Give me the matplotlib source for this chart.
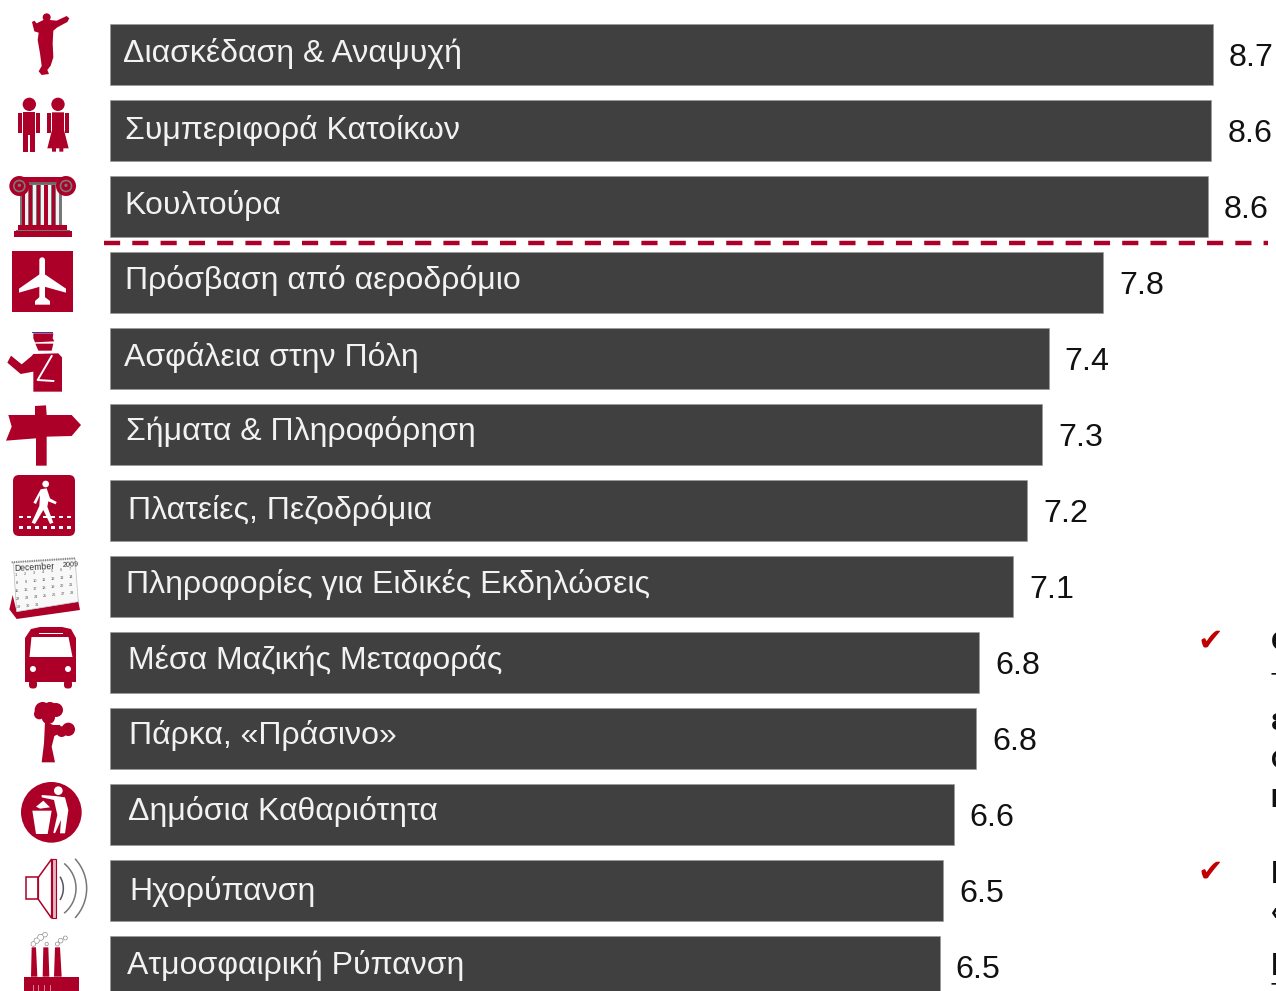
import matplotlib
matplotlib.use("Agg")
import matplotlib.pyplot as plt
from matplotlib.patches import Arc, Circle, FancyBboxPatch, Polygon, Rectangle
import numpy as np

plt.rcParams['font.family'] = ['Liberation Sans', 'DejaVu Sans']

categories = ["Διασκέδαση & Αναψυχή", "Συμπεριφορά Κατοίκων", "Κουλτούρα",
              "Πρόσβαση από αεροδρόμιο", "Ασφάλεια στην Πόλη", "Σήματα & Πληροφόρηση",
              "Πλατείες, Πεζοδρόμια", "Πληροφορίες για Ειδικές Εκδηλώσεις",
              "Μέσα Μαζικής Μεταφοράς", "Πάρκα, «Πράσινο»", "Δημόσια Καθαριότητα",
              "Ηχορύπανση", "Ατμοσφαιρική Ρύπανση"]
values = [8.68, 8.67, 8.64, 7.82, 7.39, 7.34, 7.22, 7.11, 6.84, 6.82, 6.64, 6.56, 6.53]
value_labels = ["8.7", "8.6", "8.6", "7.8", "7.4", "7.3", "7.2", "7.1", "6.8", "6.8", "6.6", "6.5", "6.5"]
cut_off_text = ["Ο", "Τ", "ε", "Ο", "Κ", "Η", "«", "Π", "Τ"]

# layout, in pixels of the picture
label_x = [123, 125, 124, 125, 124, 126, 128, 126, 128, 129, 128, 129, 127]
label_base = [62, 139, 214, 289, 366, 440, 519, 593, 669, 744, 820, 900, 974]
cut_off_base = [650, 691, 730, 768, 807, 883, 920, 975, 1001]
cut_off_size = [20, 18, 22, 18, 18, 23, 18, 23, 18]
cut_off_weight = ["bold", "normal", "bold", "bold", "bold", "bold", "bold", "bold", "normal"]

W, H = 1276, 991
RED = "#ad0028"
fig = plt.figure(figsize=(W / 100, H / 100), dpi=100)

# bars: 127 px per unit, rows 76 px apart
ax = fig.add_axes([0, 0, 1, 1])
ax.set_xlim(-110.25 / 127, (W - 110.25) / 127)
ax.set_ylim((H - 54.5) / 76, -54.5 / 76)
ax.axis("off")
y = np.arange(len(values))
ax.barh(y, values, height=60.5 / 76, color="#404040", edgecolor="#9a9a9a", linewidth=0.5)
for i, v in enumerate(values):
    ax.annotate(value_labels[i], (v, i), xytext=(11.5, -8.3), textcoords="offset points",
                fontsize=23.2, color="#111111", va="baseline", ha="left")

# overlay in pixel coordinates for labels and icons
pix = fig.add_axes([0, 0, 1, 1])
pix.set_xlim(0, W)
pix.set_ylim(H, 0)
pix.axis("off")
pix.patch.set_alpha(0)

for i, name in enumerate(categories):
    pix.text(label_x[i], label_base[i], name, fontsize=23, color="#f2f2f2", va="baseline", ha="left")

pix.plot([104, 1268], [242.5, 242.5], color=RED, linewidth=3.2, dashes=(16 / 4.4, 12 / 4.4),
         dash_capstyle="butt")

for base in (649, 880):
    pix.text(1197, base, "✔", fontsize=22, color="#c00000", family="DejaVu Sans", va="baseline")
for ch, base, size, weight in zip(cut_off_text, cut_off_base, cut_off_size, cut_off_weight):
    pix.text(1270.5, base, ch, fontsize=size, fontweight=weight, color="#111111", va="baseline", ha="left")


def z(pts, oy=0):
    return [(p[0] / 3, oy + p[1] / 3) for p in pts]


def poly(pts, oy=0, color=RED, **kw):
    pix.add_patch(Polygon(z(pts, oy), closed=True, facecolor=color, edgecolor=kw.pop("edge", "none"), **kw))


def circ(x, y, r, oy=0, color=RED, **kw):
    pix.add_patch(Circle((x / 3, oy + y / 3), r / 3, facecolor=color, edgecolor=kw.pop("edge", "none"), **kw))


def rect(x0, y0, x1, y1, oy=0, color=RED, **kw):
    poly([(x0, y0), (x1, y0), (x1, y1), (x0, y1)], oy, color, **kw)


# dancer
circ(140, 52, 12)
poly([(96, 66), (103, 62), (110, 70), (130, 60), (150, 60), (170, 62), (200, 48), (208, 55), (202, 66),
      (172, 82), (160, 92), (158, 130), (160, 172), (152, 197), (142, 210), (147, 222), (125, 225),
      (116, 214), (125, 198), (120, 160), (113, 120), (116, 98), (103, 94)])

# couple
circ(88, 313, 20)
poly([(70, 337), (106, 337), (106, 455), (91, 455), (91, 405), (85, 405), (85, 455), (70, 455)])
rect(55, 340, 67, 398)
rect(109, 340, 121, 398)
circ(174, 313, 20)
poly([(156, 337), (192, 337), (192, 390), (206, 445), (190, 445), (190, 455), (178, 455), (178, 445),
      (168, 445), (168, 455), (156, 455), (156, 445), (142, 445), (156, 390)])
rect(141, 340, 153, 398)
rect(195, 340, 208, 398)

# column
rect(60, 550, 187, 680, color="#777777")
for sx in (76, 100, 122, 145, 168):
    rect(sx, 555, sx + 9, 678, color="#f2f2f2")
for sx in (65, 86, 110, 132, 155):
    rect(sx, 555, sx + 11, 678)
rect(50, 530, 205, 545)
rect(50, 545, 205, 552, color="#6a6a6a")
for cx in (58, 198):
    circ(cx, 558, 30)
    circ(cx, 558, 19, color="#7a7a7a")
    circ(cx, 558, 14)
    circ(cx, 556, 5, color="#7a7a7a")
rect(55, 676, 200, 690)
rect(48, 690, 210, 694, color="#777777")
rect(43, 694, 215, 712)

# airplane
rect(36, 753, 219, 936)
white = "#ffffff"
pix.add_patch(FancyBboxPatch((118 / 3, 772 / 3), 17 / 3, 134 / 3, boxstyle="round,pad=0,rounding_size=2.8",
                             facecolor=white, edgecolor="none"))
poly([(120, 822), (57, 866), (57, 878), (120, 860), (133, 860), (198, 878), (198, 866), (133, 822)], color=white)
poly([(105, 903), (120, 890), (133, 890), (150, 903), (150, 914), (105, 914)], color=white)

# traffic policeman
oy = 330
rect(97, 6, 160, 10, oy, color="#3a3aa0")
poly([(100, 10), (160, 10), (158, 25), (163, 34), (105, 37), (100, 25)], oy)
poly([(106, 41), (160, 41), (155, 62), (115, 62)], oy)
poly([(100, 72), (175, 70), (186, 82), (186, 185), (100, 185), (100, 125), (62, 132), (22, 98), (33, 77), (65, 103), (95, 78)], oy)
pix.plot([155 / 3, 113 / 3, 160 / 3], [oy + 78 / 3, oy + 150 / 3, oy + 153 / 3], color=white, linewidth=1.4)

# signpost
poly([(25, 255), (105, 255), (105, 228), (138, 226), (140, 255), (215, 255), (243, 285), (215, 318), (140, 320),
      (140, 407), (108, 407), (108, 325), (18, 332), (35, 290)], oy)

# pedestrian crossing
pix.add_patch(FancyBboxPatch((39 / 3, oy + 435 / 3), 186 / 3, 183 / 3, boxstyle="round,pad=0,rounding_size=6",
                             facecolor=RED, edgecolor="none"))
circ(137, 462, 10, oy, color=white)
poly([(122, 478), (140, 475), (150, 505), (170, 516), (167, 523), (145, 514), (142, 530), (160, 578), (150, 582),
      (130, 540), (105, 582), (95, 578), (118, 528), (120, 495), (108, 522), (100, 518)], oy, color=white)
for dot_x in np.arange(58, 215, 24):
    rect(dot_x, 557, dot_x + 10, 564, oy, color=white)
    rect(dot_x, 589, dot_x + 10, 596, oy, color=white)

# calendar
poly([(50, 845), (235, 815), (240, 840), (50, 867), (28, 838), (38, 795)], oy)
poly([(40, 697), (225, 685), (235, 815), (50, 845)], oy, color="#f8f8f8", edge="#bbbbbb", linewidth=0.5)
pix.plot([35 / 3, 225 / 3], [oy + 697 / 3, oy + 685 / 3], color="#888888", linewidth=1.6, linestyle=(0, (0.5, 0.5)))
pix.text(13.5, oy + 241, "December", fontsize=6.2, color="#333333", rotation=3)
pix.text(62, oy + 237, "2009", fontsize=5.2, color="#333333", rotation=3)
day = 1
for row in range(5):
    for col in range(7):
        if day <= 31:
            px = 48 + col * 27 + row * 2
            py = 735 + row * 24 - col * 3
            pix.text(px / 3, oy + py / 3, str(day), fontsize=2.8, color="#555555", ha="center", va="center")
        day += 1

# bus
body = [(25, 682), (25, 638), (31, 629), (40, 627), (62, 627), (71, 629), (76, 638), (76, 682)]
pix.add_patch(Polygon(body, closed=True, facecolor=RED, edgecolor="none"))
pix.add_patch(Polygon([(31.5, 637), (68.5, 637), (72.5, 657), (29.5, 657)], closed=True, facecolor=white, edgecolor="none"))
pix.add_patch(Rectangle((39, 632.5), 24, 1.5, facecolor=white, edgecolor="none"))
pix.add_patch(Circle((33, 669), 3, facecolor=white, edgecolor="none"))
pix.add_patch(Circle((68, 669), 3, facecolor=white, edgecolor="none"))
pix.add_patch(FancyBboxPatch((29, 680), 8, 8.5, boxstyle="round,pad=0,rounding_size=3.5", facecolor=RED, edgecolor="none"))
pix.add_patch(FancyBboxPatch((64, 680), 8, 8.5, boxstyle="round,pad=0,rounding_size=3.5", facecolor=RED, edgecolor="none"))

# tree
oy = 660
for cx, cy, r in [(128, 150, 24), (150, 148, 22), (168, 150, 21), (118, 162, 16), (205, 208, 20), (185, 215, 16), (145, 172, 20)]:
    circ(cx, cy, r, oy)
poly([(135, 185), (160, 195), (180, 195), (190, 215), (163, 228), (155, 260), (165, 307), (125, 307), (132, 250)], oy)

# litter sign
circ(154, 457, 91, oy)
circ(175, 392, 13, oy, color=white)
poly([(97, 452), (155, 452), (143, 522), (108, 522)], oy, color=white)
poly([(108, 440), (130, 422), (150, 442), (120, 446)], oy, color=white)
poly([(125, 405), (165, 408), (195, 412), (205, 450), (195, 520), (180, 520), (183, 480), (165, 520), (160, 518),
      (172, 465), (162, 420), (125, 412)], oy, color=white)

# speaker
pix.add_patch(Polygon(z([(77, 652), (115, 652), (115, 718), (77, 718)], oy), closed=True, facecolor="none",
                      edgecolor=RED, linewidth=1.1))
pix.add_patch(Polygon(z([(115, 652), (155, 597), (155, 775), (115, 718)], oy), closed=True, facecolor="none",
                      edgecolor=RED, linewidth=1.1))
pix.add_patch(Rectangle((155 / 3, oy + 597 / 3), 13 / 3, 178 / 3, facecolor="#e3b5c0", edgecolor=RED, linewidth=0.8))
for cx, r, ang, col in [(124, 66, 32, "#555566"), (132, 96, 51, "#777777"), (130, 130, 43, "#777777")]:
    pix.add_patch(Arc((cx / 3, oy + 685 / 3), 2 * r / 3, 2 * r / 3, theta1=-ang, theta2=ang, edgecolor=col, linewidth=1.1))

# factory
poly([(95, 862), (108, 862), (112, 950), (93, 950)], oy)
poly([(130, 862), (145, 862), (148, 950), (128, 950)], oy)
poly([(165, 862), (180, 862), (185, 950), (162, 950)], oy)
rect(72, 950, 237, 993, oy)
for sx in (98, 115, 133, 150):
    pix.plot([sx / 3, sx / 3], [oy + 975 / 3, H], color="#d8a0ad", linewidth=0.6)
for cx, cy, r in [(100, 852, 8), (110, 842, 9), (122, 832, 10), (135, 824, 8), (140, 852, 6), (172, 852, 7),
                  (182, 842, 8), (196, 834, 7)]:
    circ(cx, cy, r, oy, color="#888888")
for cx, cy, r in [(100, 852, 6), (110, 842, 7), (122, 832, 8), (135, 824, 6), (140, 852, 4), (172, 852, 5),
                  (182, 842, 6), (196, 834, 5)]:
    circ(cx, cy, r, oy, color=white)

fig.savefig("out.png", dpi=100)
